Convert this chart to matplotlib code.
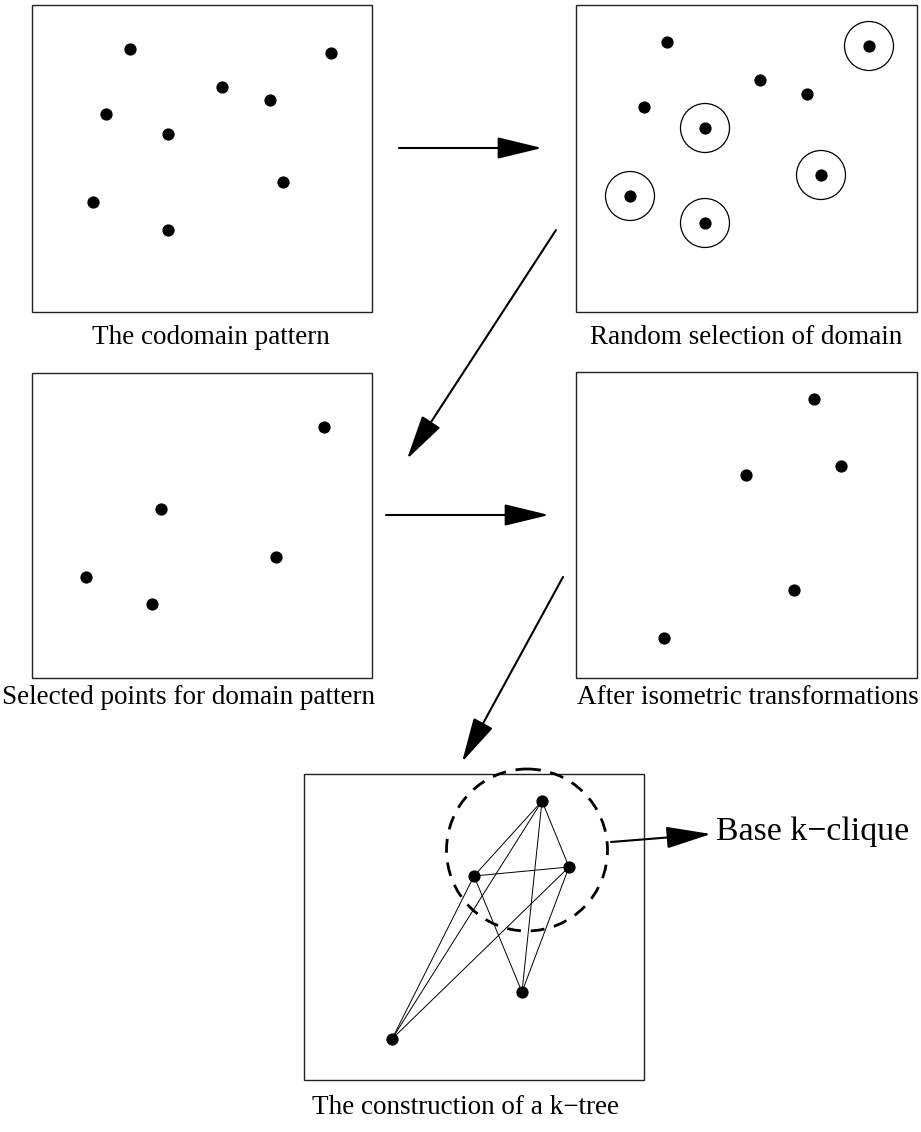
import matplotlib
matplotlib.use("Agg")
import matplotlib.pyplot as plt
from matplotlib.patches import Rectangle, Circle, Ellipse, FancyArrowPatch

# canvas is laid out in pixels (y grows downward)
W, H = 921, 1132

# data: panel points (pixel positions on the canvas)
codomain_x = [130, 331, 222, 270, 106, 168, 283, 93, 168]
codomain_y = [49, 53, 87, 100, 114, 134, 182, 202, 230]

selection_x = [667, 760, 807, 644, 705, 869, 821, 630, 705]
selection_y = [42, 80, 94, 107, 128, 46, 175, 196, 223]
selected = [False, False, False, False, True, True, True, True, True]

domain_x = [324, 161, 276, 86, 152]
domain_y = [427, 509, 557, 577, 604]

iso_x = [814, 841, 746, 794, 664]
iso_y = [399, 466, 475, 590, 638]

# k-tree: T, L, R are the base clique, BM and BL are added
ktree_names = ["T", "L", "R", "BM", "BL"]
ktree_x = [542, 474, 569, 522, 392]
ktree_y = [801, 876, 867, 992, 1039]
ktree_edges = [("T", "L"), ("T", "R"), ("L", "R"),
               ("BM", "T"), ("BM", "L"), ("BM", "R"),
               ("BL", "T"), ("BL", "L"), ("BL", "R")]

captions = ["The codomain pattern", "Random selection of domain",
            "Selected points for domain pattern", "After isometric transformations",
            "The construction of a k\u2212tree"]

# layout
boxes = [(32, 5, 340, 307), (576, 5, 341, 307),
         (32, 373, 340, 305), (576, 372, 341, 306),
         (304, 774, 340, 306)]
caption_pos = [(211, 338), (746, 338), (188, 698), (748, 698), (465, 1108)]

fig = plt.figure(figsize=(W / 100, H / 100), dpi=100)
ax = fig.add_axes([0, 0, 1, 1])
ax.set_xlim(0, W)
ax.set_ylim(H, 0)
ax.axis("off")

for (x0, y0, w, h) in boxes:
    ax.add_patch(Rectangle((x0, y0), w, h, fill=False, ec="#222222", lw=1.0))

dot = dict(ls="none", marker="o", ms=7.8, color="black", zorder=5)
ax.plot(codomain_x, codomain_y, **dot)
ax.plot(selection_x, selection_y, **dot)
for x, y, s in zip(selection_x, selection_y, selected):
    if s:
        ax.add_patch(Circle((x, y), 24.5, fill=False, ec="black", lw=0.9))
ax.plot(domain_x, domain_y, **dot)
ax.plot(iso_x, iso_y, **dot)

pos = {n: (x, y) for n, x, y in zip(ktree_names, ktree_x, ktree_y)}
for a, b in ktree_edges:
    ax.plot([pos[a][0], pos[b][0]], [pos[a][1], pos[b][1]], color="black", lw=0.7)
ax.plot(ktree_x, ktree_y, **dot)
ax.add_patch(Ellipse((527, 850), 161, 162, fill=False, ec="black", lw=2.0,
                     ls=(0, (5, 3.5))))

serif = ["Liberation Serif", "DejaVu Serif"]
for txt, (cx, cy) in zip(captions, caption_pos):
    ax.text(cx, cy, txt, ha="center", va="center", fontsize=19.5, family=serif)
ax.text(716, 832, "Base k\u2212clique", ha="left", va="center", fontsize=24.4, family=serif)

arrows = [((399, 148), (542, 148)),
          ((556, 230), (407, 459)),
          ((386, 515), (549, 515)),
          ((563, 577), (462, 762)),
          ((611, 842), (711, 834))]
for a, b in arrows:
    ax.add_patch(FancyArrowPatch(a, b, arrowstyle="-|>,head_length=2.8,head_width=0.68",
                                 mutation_scale=10, lw=1.5, color="black",
                                 shrinkA=0, shrinkB=0))

fig.savefig("out.png", dpi=100)
